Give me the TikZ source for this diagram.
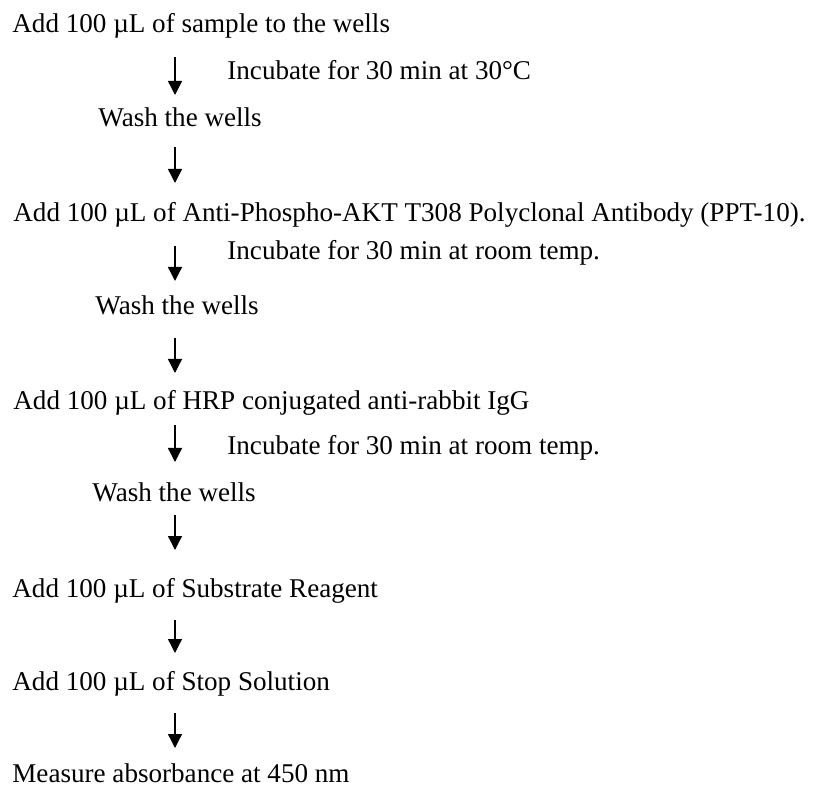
\documentclass[tikz,border=0pt]{standalone}
\usepackage{fontspec}
\setmainfont{Liberation Serif}
\usetikzlibrary{arrows.meta}
\begin{document}
\begin{tikzpicture}[x=0.5pt,y=-0.5pt,
	step text/.style={anchor=base west,inner sep=0pt,font=\fontsize{13.55}{16}\selectfont},
	flow/.style={line width=0.65pt,-{Triangle[length=7pt,width=7pt]}}]
		\useasboundingbox (0,0) rectangle (813,785);
		% Các bước
		\node[step text] (s1) at (12,33) {Add 100 µL of sample to the wells};
		\node[step text] (i1) at (227,80) {Incubate for 30 min at 30°C};
		\node[step text] (w1) at (98,127) {Wash the wells};
		\node[step text] (s2) at (13,222) {Add 100 µL of Anti-Phospho-AKT T308 Polyclonal Antibody (PPT-10).};
		\node[step text] (i2) at (227,260) {Incubate for 30 min at room temp.};
		\node[step text] (w2) at (95,315) {Wash the wells};
		\node[step text] (s3) at (13,410) {Add 100 µL of HRP conjugated anti-rabbit IgG};
		\node[step text] (i3) at (227,455) {Incubate for 30 min at room temp.};
		\node[step text] (w3) at (92,502) {Wash the wells};
		\node[step text] (s4) at (12,597) {Add 100 µL of Substrate Reagent};
		\node[step text] (s5) at (12,690) {Add 100 µL of Stop Solution};
		\node[step text] (s6) at (12,782) {Measure absorbance at 450 nm};
		% Mũi tên
		\foreach \n/\ya/\yb in {1/57/95,2/147/183,3/246/281,4/338/373,5/425/462,6/515/550,7/620/653,8/713/748}{
			\coordinate (a\n) at (175,\ya);
			\coordinate (b\n) at (175,\yb);
			\draw[flow] (a\n) -- (b\n);
		}
	\end{tikzpicture}
\end{document}
